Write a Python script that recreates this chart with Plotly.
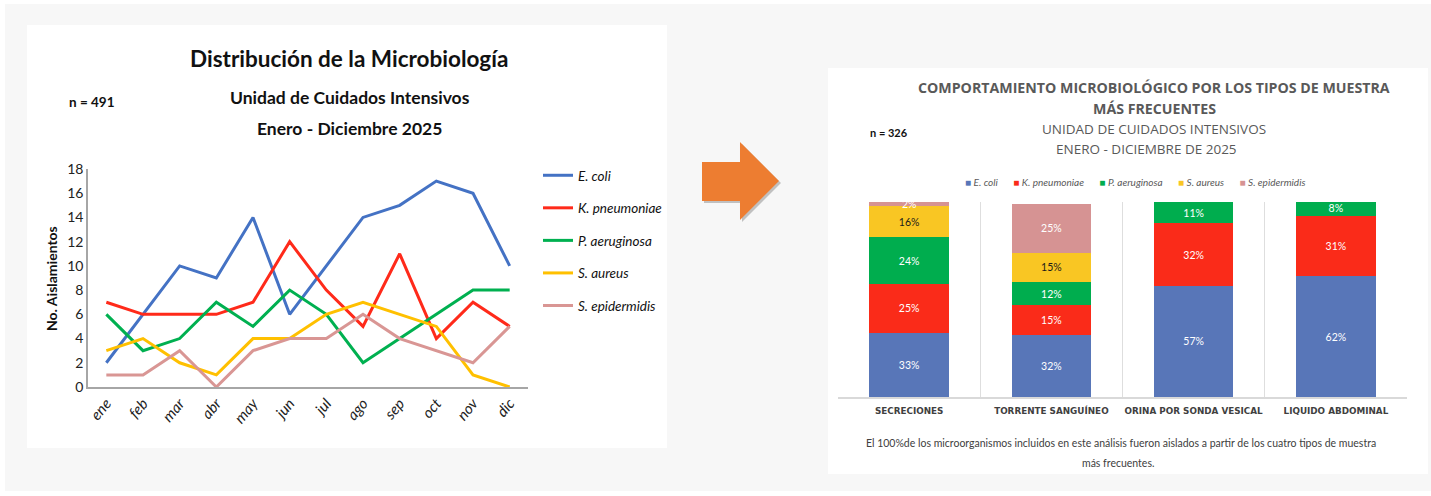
import plotly.graph_objects as go

# ---- Data: monthly isolations (left chart) ----
meses = ["ene", "feb", "mar", "abr", "may", "jun", "jul", "ago", "sep", "oct", "nov", "dic"]
e_coli = [2, 6, 10, 9, 14, 6, 10, 14, 15, 17, 16, 10]
k_pneumoniae = [7, 6, 6, 6, 7, 12, 8, 5, 11, 4, 7, 5]
p_aeruginosa = [6, 3, 4, 7, 5, 8, 6, 2, 4, 6, 8, 8]
s_aureus = [3, 4, 2, 1, 4, 4, 6, 7, 6, 5, 1, 0]
s_epidermidis = [1, 1, 3, 0, 3, 4, 4, 6, 4, 3, 2, 5]

# ---- Data: percentage by sample type (right chart) ----
tipos_muestra = ["SECRECIONES", "TORRENTE SANGUÍNEO", "ORINA POR SONDA VESICAL", "LIQUIDO ABDOMINAL"]
pct_e_coli = [33, 32, 57, 62]
pct_k_pneumoniae = [25, 15, 32, 31]
pct_p_aeruginosa = [24, 12, 11, 8]
pct_s_aureus = [16, 15, 0, 0]
pct_s_epidermidis = [2, 25, 0, 0]

especies = ["E. coli", "K. pneumoniae", "P. aeruginosa", "S. aureus", "S. epidermidis"]

W, H = 1431, 496


def px(x):
    return x / W


def py(y):
    return 1 - y / H


LATO = "Lato, sans-serif"
WIDE = "Open Sans, DejaVu Sans, sans-serif"

line_colors = ["#4472C4", "#FF2A1A", "#00B050", "#FFC000", "#D99694"]
bar_colors = ["#5876B8", "#FA2B19", "#00AD4E", "#F9C623", "#D69393"]
bar_text_colors = ["white", "white", "white", "#1a1a1a", "white"]

fig = go.Figure()

# Left: monthly line chart
for name, serie, col in zip(especies,
                            [e_coli, k_pneumoniae, p_aeruginosa, s_aureus, s_epidermidis],
                            line_colors):
    fig.add_trace(go.Scatter(
        x=meses, y=serie, mode="lines", name=name,
        line=dict(color=col, width=3),
        legend="legend", legendgroup=name,
        xaxis="x", yaxis="y",
    ))

# Right: stacked percentage bars
for name, vals, col, tcol in zip(especies,
                                 [pct_e_coli, pct_k_pneumoniae, pct_p_aeruginosa,
                                  pct_s_aureus, pct_s_epidermidis],
                                 bar_colors, bar_text_colors):
    fig.add_trace(go.Bar(
        x=tipos_muestra, y=vals, name=name,
        marker=dict(color=col, line=dict(width=0)),
        text=[f"{v}%" if v > 0 else "" for v in vals],
        textposition="inside", insidetextanchor="middle", textangle=0,
        textfont=dict(family=LATO, size=10.5, color=tcol),
        showlegend=False, xaxis="x2", yaxis="y2",
    ))

shapes = [
    # light frame and white panels
    dict(type="rect", xref="paper", yref="paper", x0=px(5), x1=px(1431), y0=py(491), y1=py(4),
         fillcolor="#f7f7f7", line=dict(width=0), layer="below"),
    dict(type="rect", xref="paper", yref="paper", x0=px(27), x1=px(667), y0=py(448), y1=py(25),
         fillcolor="white", line=dict(width=0), layer="below"),
    dict(type="rect", xref="paper", yref="paper", x0=px(828), x1=px(1428), y0=py(474), y1=py(68),
         fillcolor="white", line=dict(width=0), layer="below"),
]

# orange arrow between the two panels (with a soft drop shadow)
arrow_pts = [(702, 162), (740, 162), (740, 142), (779, 181), (740, 220), (740, 201), (702, 201)]


def arrow_path(dx=0, dy=0):
    pts = [f"{px(x + dx):.5f},{py(y + dy):.5f}" for x, y in arrow_pts]
    return "M" + " L".join(pts) + " Z"


shapes.append(dict(type="path", xref="paper", yref="paper", path=arrow_path(2, 2),
                   fillcolor="rgba(0,0,0,0.22)", line=dict(width=0)))
shapes.append(dict(type="path", xref="paper", yref="paper", path=arrow_path(),
                   fillcolor="#ED7D31", line=dict(width=0)))

# compact horizontal key for the stacked bars: coloured square + italic name
bar_key = "      ".join(
    f"<span style='color:{c}'>■</span> <i>{n}</i>" for n, c in zip(especies, bar_colors)
)

annotations = [
    dict(text="<b>Distribución de la Microbiología</b>", x=px(349), y=py(58),
         font=dict(family=LATO, size=22.5, color="#111111")),
    dict(text="<b>Unidad de Cuidados Intensivos</b>", x=px(350), y=py(97),
         font=dict(family=LATO, size=17.5, color="#111111")),
    dict(text="<b>Enero - Diciembre 2025</b>", x=px(349), y=py(128),
         font=dict(family=LATO, size=17.5, color="#111111")),
    dict(text="<b>n = 491</b>", x=px(92), y=py(102),
         font=dict(family=LATO, size=13.5, color="#111111")),
    dict(text="<b>No. Aislamientos</b>", x=px(51), y=py(278), textangle=-90,
         font=dict(family=LATO, size=14, color="#111111")),
    # right chart titles
    dict(text="<b>COMPORTAMIENTO MICROBIOLÓGICO POR LOS TIPOS DE MUESTRA</b>", x=px(1154), y=py(87),
         font=dict(family=WIDE, size=14.2, color="#595959")),
    dict(text="<b>MÁS FRECUENTES</b>", x=px(1154), y=py(108),
         font=dict(family=WIDE, size=14.2, color="#595959")),
    dict(text="UNIDAD DE CUIDADOS INTENSIVOS", x=px(1154), y=py(129),
         font=dict(family=WIDE, size=13.5, color="#595959")),
    dict(text="ENERO - DICIEMBRE DE 2025", x=px(1146), y=py(149),
         font=dict(family=WIDE, size=13.5, color="#595959")),
    dict(text="<b>n = 326</b>", x=px(889), y=py(133),
         font=dict(family=LATO, size=11, color="#111111")),
    dict(text=bar_key, x=px(1135), y=py(182),
         font=dict(family=LATO, size=10, color="#595959")),
    dict(text="El 100%de los microorganismos incluidos en este análisis fueron aislados a partir "
              "de los cuatro tipos de muestra", x=px(1121), y=py(443),
         font=dict(family=LATO, size=10.5, color="#404040")),
    dict(text="más frecuentes.", x=px(1118), y=py(463),
         font=dict(family=LATO, size=10.5, color="#404040")),
]
for a in annotations:
    a.update(xref="paper", yref="paper", showarrow=False, xanchor="center", yanchor="middle")

fig.update_layout(
    width=W, height=H, autosize=False,
    margin=dict(l=0, r=0, t=0, b=0, autoexpand=False),
    paper_bgcolor="white", plot_bgcolor="rgba(0,0,0,0)",
    barmode="stack", bargap=0.44,
    uniformtext=dict(minsize=10.5, mode="show"),
    shapes=shapes, annotations=annotations,
    xaxis=dict(domain=[px(88), px(528)], type="category", range=[-0.5, 11.5],
               showline=True, linecolor="#a6a6a6", linewidth=1.5, showgrid=False,
               ticks="", tickangle=-50, automargin=False,
               tickfont=dict(family=LATO, size=15, color="#222222", style="italic"),
               anchor="y", fixedrange=True),
    yaxis=dict(domain=[py(387), py(169)], range=[0, 18], dtick=2,
               showline=True, linecolor="#a6a6a6", linewidth=1.5, showgrid=False,
               zeroline=False, ticks="", automargin=False,
               tickfont=dict(family=LATO, size=14, color="#222222"),
               anchor="x", fixedrange=True),
    xaxis2=dict(domain=[px(838), px(1407)], type="category", tickson="boundaries",
                showgrid=True, gridcolor="#dedede", gridwidth=1.2,
                showline=True, linecolor="#d9d9d9", linewidth=1.5, ticks="",
                tickangle=0, automargin=False, ticklabelstandoff=5,
                tickfont=dict(family="DejaVu Sans, sans-serif", size=8.8, color="#404040",
                              weight="bold"),
                anchor="y2", fixedrange=True),
    yaxis2=dict(domain=[py(397), py(202)], range=[0, 100], showticklabels=False,
                showgrid=False, zeroline=False, showline=False, anchor="x2",
                automargin=False, fixedrange=True),
    legend=dict(x=px(538), y=py(160), xanchor="left", yanchor="top",
                bgcolor="rgba(0,0,0,0)", itemwidth=30, tracegroupgap=12,
                font=dict(family=LATO, size=13.5, color="#111111", style="italic")),
)

fig.write_html("out.html")
